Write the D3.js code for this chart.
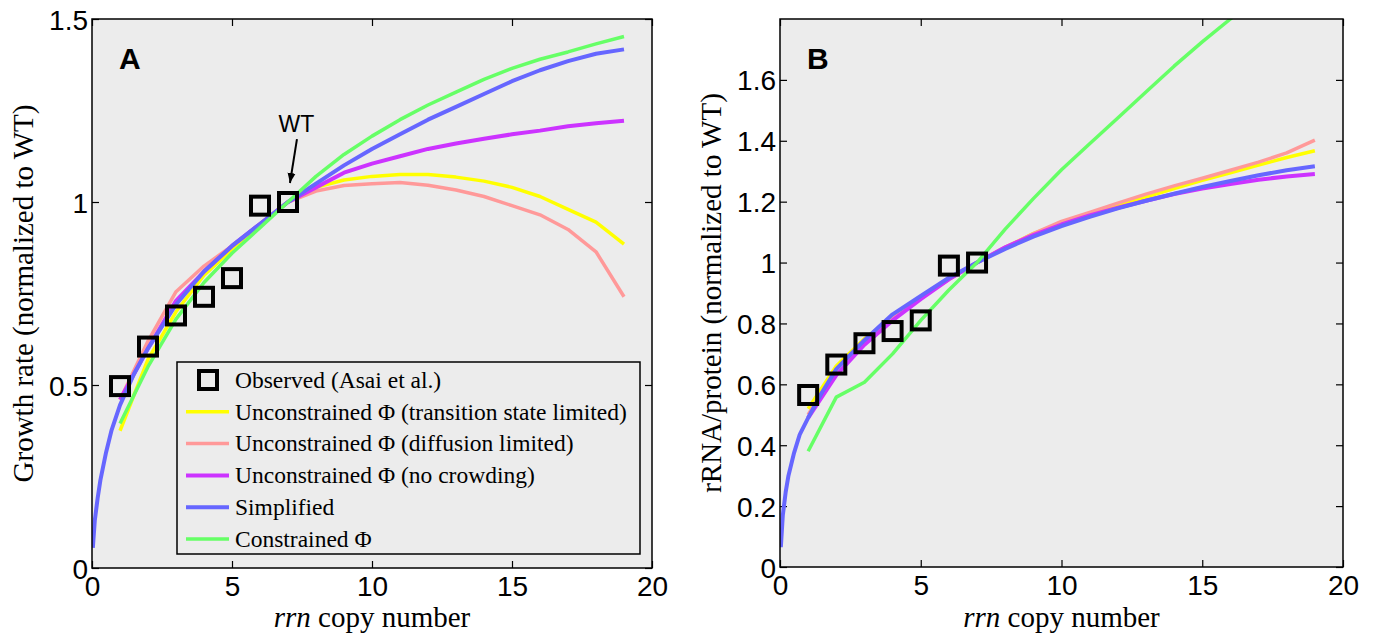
<!DOCTYPE html>
<html>
<head>
<meta charset="utf-8">
<script src="https://cdn.jsdelivr.net/npm/d3@7"></script>
<style>
  body { margin: 0; background: #fff; }
  svg text { fill: #000; }
</style>
</head>
<body>
<svg id="chart" width="1377" height="639"></svg>
<script>
// ---- data ----
const seriesNames = [
  "Unconstrained \u03A6 (transition state limited)",
  "Unconstrained \u03A6 (diffusion limited)",
  "Unconstrained \u03A6 (no crowding)",
  "Simplified",
  "Constrained \u03A6"
];
const seriesColors = ["#ffff00", "#ff9999", "#cc33ff", "#6666ff", "#66ff66"];
const seriesWidths = [3.5, 3.5, 4, 4, 3.5];

const copyNumbers = [1, 2, 3, 4, 5, 6, 7, 8, 9, 10, 11, 12, 13, 14, 15, 16, 17, 18, 19];
const simplifiedX = [0.03, 0.1, 0.2, 0.3, 0.5, 0.7, 1, 1.5, 2, 3, 4, 5, 6, 7, 8, 9, 10, 11, 12, 13, 14, 15, 16, 17, 18, 19];

// panel A: growth rate
const observedX = [1, 2, 3, 4, 5, 6, 7];
const observedGrowth = [0.497, 0.605, 0.69, 0.741, 0.792, 0.99, 1.0];
const growthTransition = [0.375, 0.57, 0.70, 0.80, 0.87, 0.94, 1.0, 1.04, 1.06, 1.07, 1.075, 1.075, 1.068, 1.057, 1.04, 1.015, 0.98, 0.945, 0.885];
const growthDiffusion = [0.46, 0.62, 0.755, 0.825, 0.88, 0.94, 1.0, 1.03, 1.045, 1.05, 1.053, 1.046, 1.033, 1.015, 0.99, 0.965, 0.925, 0.864, 0.741];
const growthNoCrowding = [0.46, 0.60, 0.73, 0.81, 0.88, 0.94, 1.0, 1.04, 1.08, 1.105, 1.125, 1.145, 1.16, 1.173, 1.185, 1.195, 1.207, 1.215, 1.222];
const growthSimplified = [0.055, 0.13, 0.19, 0.24, 0.315, 0.377, 0.445, 0.53, 0.6, 0.72, 0.81, 0.88, 0.94, 1.0, 1.05, 1.10, 1.145, 1.185, 1.225, 1.26, 1.295, 1.33, 1.36, 1.385, 1.405, 1.417];
const growthConstrained = [0.395, 0.55, 0.68, 0.78, 0.86, 0.93, 1.0, 1.07, 1.13, 1.18, 1.225, 1.265, 1.30, 1.335, 1.365, 1.39, 1.41, 1.432, 1.452];

// panel B: rRNA/protein
const observedRatio = [0.565, 0.665, 0.735, 0.775, 0.81, 0.99, 1.0];
const ratioTransition = [0.52, 0.66, 0.75, 0.82, 0.885, 0.945, 1.0, 1.05, 1.095, 1.13, 1.16, 1.19, 1.215, 1.243, 1.27, 1.295, 1.32, 1.345, 1.367];
const ratioDiffusion = [0.50, 0.65, 0.745, 0.82, 0.885, 0.945, 1.0, 1.05, 1.095, 1.135, 1.165, 1.195, 1.225, 1.252, 1.277, 1.303, 1.33, 1.36, 1.402];
const ratioNoCrowding = [0.49, 0.63, 0.73, 0.81, 0.88, 0.945, 1.0, 1.05, 1.09, 1.125, 1.155, 1.18, 1.203, 1.225, 1.243, 1.258, 1.272, 1.283, 1.291];
const ratioSimplified = [0.065, 0.17, 0.245, 0.30, 0.375, 0.435, 0.49, 0.575, 0.65, 0.745, 0.83, 0.89, 0.95, 1.0, 1.045, 1.085, 1.12, 1.15, 1.178, 1.203, 1.226, 1.248, 1.268, 1.287, 1.303, 1.316];
const ratioConstrained = [0.38, 0.558, 0.607, 0.70, 0.81, 0.91, 1.0, 1.11, 1.21, 1.305, 1.39, 1.475, 1.56, 1.645, 1.725, 1.80, 1.88];

const xTicks = [0, 5, 10, 15, 20];
const growthTicks = [0, 0.5, 1, 1.5];
const ratioTicks = [0, 0.2, 0.4, 0.6, 0.8, 1, 1.2, 1.4, 1.6];

const panels = [
  {
    letter: "A",
    left: 92, right: 652, top: 19, bottom: 568,
    yMax: 1.5, yTicks: growthTicks,
    yTitle: "Growth rate (normalized to WT)",
    observed: observedGrowth,
    series: [growthTransition, growthDiffusion, growthNoCrowding, growthSimplified, growthConstrained],
    legend: true, wt: true
  },
  {
    letter: "B",
    left: 780, right: 1343, top: 19, bottom: 567,
    yMax: 1.8, yTicks: ratioTicks,
    yTitle: "rRNA/protein (normalized to WT)",
    observed: observedRatio,
    series: [ratioTransition, ratioDiffusion, ratioNoCrowding, ratioSimplified, ratioConstrained],
    legend: false, wt: false
  }
];

const svg = d3.select("#chart");
const tickFont = "'Liberation Sans', Arial, sans-serif";
const serifFont = "'Liberation Serif', 'Times New Roman', serif";

panels.forEach((p, pi) => {

  const x = d3.scaleLinear().domain([0, 20]).range([p.left, p.right]);
  const y = d3.scaleLinear().domain([0, p.yMax]).range([p.bottom, p.top]);

  const g = svg.append("g");

  const clipId = "clip" + pi;
  g.append("clipPath").attr("id", clipId)
    .append("rect")
    .attr("x", p.left).attr("y", p.top)
    .attr("width", p.right - p.left).attr("height", p.bottom - p.top);

  g.append("rect")
    .attr("x", p.left).attr("y", p.top)
    .attr("width", p.right - p.left).attr("height", p.bottom - p.top)
    .attr("fill", "#ececec");

  // axes, ticks inward on all four sides
  const axes = [
    d3.axisBottom(x).tickValues(xTicks).tickSize(-7).tickFormat(d3.format("~g")),
    d3.axisTop(x).tickValues(xTicks).tickSize(-7).tickFormat(""),
    d3.axisLeft(y).tickValues(p.yTicks).tickSize(-7).tickFormat(d3.format("~g")),
    d3.axisRight(y).tickValues(p.yTicks).tickSize(-7).tickFormat("")
  ];
  const shifts = [
    [0, p.bottom], [0, p.top], [p.left, 0], [p.right, 0]
  ];
  axes.forEach((ax, i) => {
    const a = g.append("g")
      .attr("transform", `translate(${shifts[i][0]},${shifts[i][1]})`)
      .call(ax);
    a.select(".domain").remove();
    a.selectAll(".tick line").attr("stroke", "#000").attr("stroke-width", 1.2);
    a.selectAll("text")
      .attr("font-family", tickFont)
      .attr("font-size", 28)
      .attr("fill", "#000");
    if (i === 0) a.selectAll("text").attr("dy", "0.71em").attr("y", 8);
    if (i === 2) a.selectAll("text").attr("x", -4).attr("dy", "0.36em");
  });

  const line = d3.line().x(d => x(d[0])).y(d => y(d[1]));

  const curves = g.append("g").attr("clip-path", `url(#${clipId})`);
  p.series.forEach((vals, si) => {
    const xs = si === 3 ? simplifiedX : copyNumbers;
    curves.append("path")
      .datum(vals.map((v, k) => [xs[k], v]))
      .attr("d", line)
      .attr("fill", "none")
      .attr("stroke", seriesColors[si])
      .attr("stroke-width", seriesWidths[si])
      .attr("stroke-linejoin", "round");
  });

  g.selectAll(".obs")
    .data(observedX.map((v, k) => [v, p.observed[k]]))
    .join("rect")
    .attr("x", d => x(d[0]) - 9)
    .attr("y", d => y(d[1]) - 9)
    .attr("width", 18).attr("height", 18)
    .attr("fill", "none")
    .attr("stroke", "#000")
    .attr("stroke-width", 4);

  // frame
  g.append("rect")
    .attr("x", p.left).attr("y", p.top)
    .attr("width", p.right - p.left).attr("height", p.bottom - p.top)
    .attr("fill", "none")
    .attr("stroke", "#000")
    .attr("stroke-width", 1.5);

  g.append("text")
    .attr("x", p.left + 27).attr("y", p.top + 50)
    .attr("font-family", tickFont)
    .attr("font-weight", "bold")
    .attr("font-size", 30)
    .text(p.letter);

  g.append("text")
    .attr("x", (p.left + p.right) / 2).attr("y", 627)
    .attr("text-anchor", "middle")
    .attr("font-family", serifFont)
    .attr("font-size", 29)
    .html("<tspan font-style='italic'>rrn</tspan> copy number");

  g.append("text")
    .attr("transform", `translate(${p.left - 59},${(p.top + p.bottom) / 2}) rotate(-90)`)
    .attr("text-anchor", "middle")
    .attr("font-family", serifFont)
    .attr("font-size", 29)
    .text(p.yTitle);

  if (p.wt) {
    svg.append("defs").append("marker")
      .attr("id", "arrow")
      .attr("viewBox", "0 0 10 10")
      .attr("refX", 10).attr("refY", 5)
      .attr("markerWidth", 5).attr("markerHeight", 5)
      .attr("markerUnits", "strokeWidth")
      .attr("orient", "auto")
      .append("path").attr("d", "M0,1 L10,5 L0,9 Z").attr("fill", "#000");
    g.append("line")
      .attr("x1", x(7.32)).attr("y1", y(1.172))
      .attr("x2", x(7.07)).attr("y2", y(1.052))
      .attr("stroke", "#000").attr("stroke-width", 2)
      .attr("marker-end", "url(#arrow)");
    g.append("text")
      .attr("x", x(7.3)).attr("y", y(1.19))
      .attr("text-anchor", "middle")
      .attr("font-family", tickFont)
      .attr("font-size", 23)
      .text("WT");
  }

  if (p.legend) {
    const lx = 177, ly = 362, lw = 463, lh = 192, step = 31.8;
    const lg = g.append("g");
    lg.append("rect")
      .attr("x", lx).attr("y", ly).attr("width", lw).attr("height", lh)
      .attr("fill", "#ececec").attr("stroke", "#000").attr("stroke-width", 1.5);
    const rows = ["Observed (Asai et al.)"].concat(seriesNames);
    rows.forEach((name, r) => {
      const cy = ly + 18 + r * step;
      if (r === 0) {
        lg.append("rect")
          .attr("x", 199).attr("y", cy - 9).attr("width", 18).attr("height", 18)
          .attr("fill", "none").attr("stroke", "#000").attr("stroke-width", 4);
      } else {
        lg.append("line")
          .attr("x1", 186).attr("x2", 229).attr("y1", cy).attr("y2", cy)
          .attr("stroke", seriesColors[r - 1]).attr("stroke-width", seriesWidths[r - 1]);
      }
      lg.append("text")
        .attr("x", 235).attr("y", cy).attr("dy", "0.33em")
        .attr("font-family", serifFont)
        .attr("font-size", 23.5)
        .text(name);
    });
  }
});
</script>
</body>
</html>
